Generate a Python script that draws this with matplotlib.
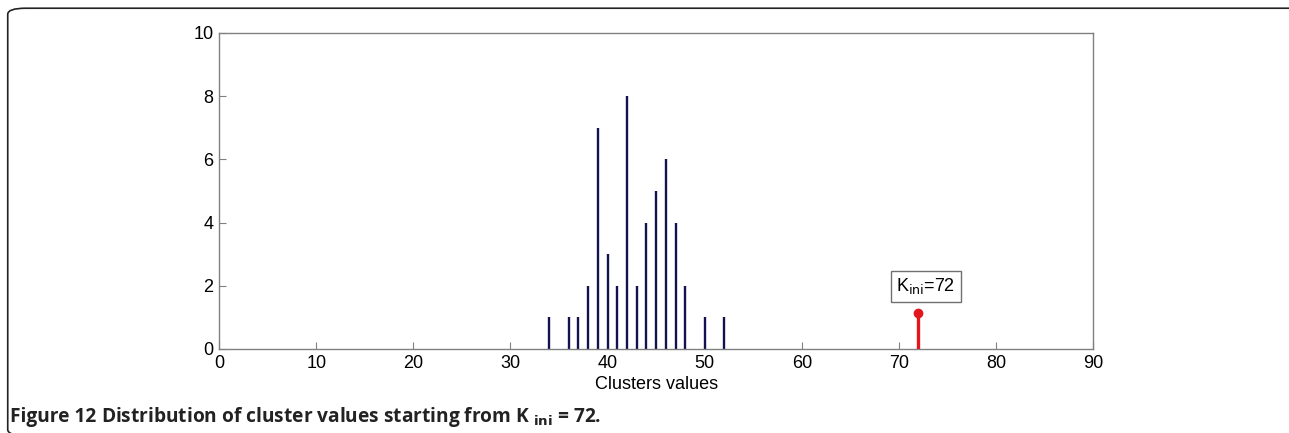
import numpy as np
import matplotlib
matplotlib.use('Agg')
from matplotlib import pyplot as plt
from matplotlib.patches import FancyBboxPatch

# data
cluster_values = [34, 36, 37, 38, 39, 40, 41, 42, 43, 44, 45, 46, 47, 48, 50, 52]
counts = [1, 1, 1, 2, 7, 3, 2, 8, 2, 4, 5, 6, 4, 2, 1, 1]
k_ini = 72
k_ini_height = 1.15
x_ticks = [0, 10, 20, 30, 40, 50, 60, 70, 80, 90]
y_ticks = [0, 2, 4, 6, 8, 10]

plt.rcParams['font.family'] = ['Liberation Sans', 'DejaVu Sans']

fig = plt.figure(figsize=(12.89, 4.33), dpi=100)
ax = fig.add_axes([0.170, 0.194, 0.678, 0.730])

ax.vlines(cluster_values, 0, counts, colors='#12124f', lw=1.7)

# K_ini stem
ax.vlines([k_ini], 0, [k_ini_height], colors='#e3161d', lw=2.4, zorder=3)
ax.plot([k_ini], [k_ini_height], 'o', color='#e3161d', ms=6, zorder=4)
ax.text(69.75, 1.98, r'K$_{\mathrm{ini}}$=72', fontsize=13, va='center', ha='left',
        bbox=dict(boxstyle='square,pad=0.3', fc='white', ec='#707070', lw=1))

ax.set_xlim(0, 90)
ax.set_ylim(0, 10)
ax.set_xticks(x_ticks)
ax.set_yticks(y_ticks)
ax.tick_params(direction='in', length=5, color='#808080', labelsize=13, pad=4)
for s in ax.spines.values():
    s.set_color('#808080')
    s.set_linewidth(1)
ax.set_xlabel('Clusters values', fontsize=13, labelpad=3)

# rounded frame around the figure, right and bottom edges run off the image
frame = FancyBboxPatch((0.006, -0.006), 1.05, 0.987, boxstyle='round,pad=0,rounding_size=0.014',
                       transform=fig.transFigure, fc='none', ec='#222222', lw=1.2)
fig.patches.append(frame)

fig.text(0.008, 0.026, 'Figure 12', fontsize=13.8, fontweight='bold',
         family=['Open Sans', 'DejaVu Sans'], color='#222222', ha='left', va='baseline')
fig.text(0.0785, 0.026, r'Distribution of cluster values starting from K $_{\mathbf{ini}}$ = 72.',
         fontsize=13.8, fontweight='bold', family=['Open Sans', 'DejaVu Sans'],
         color='#222222', ha='left', va='baseline')

fig.savefig('out.png', dpi=100)
